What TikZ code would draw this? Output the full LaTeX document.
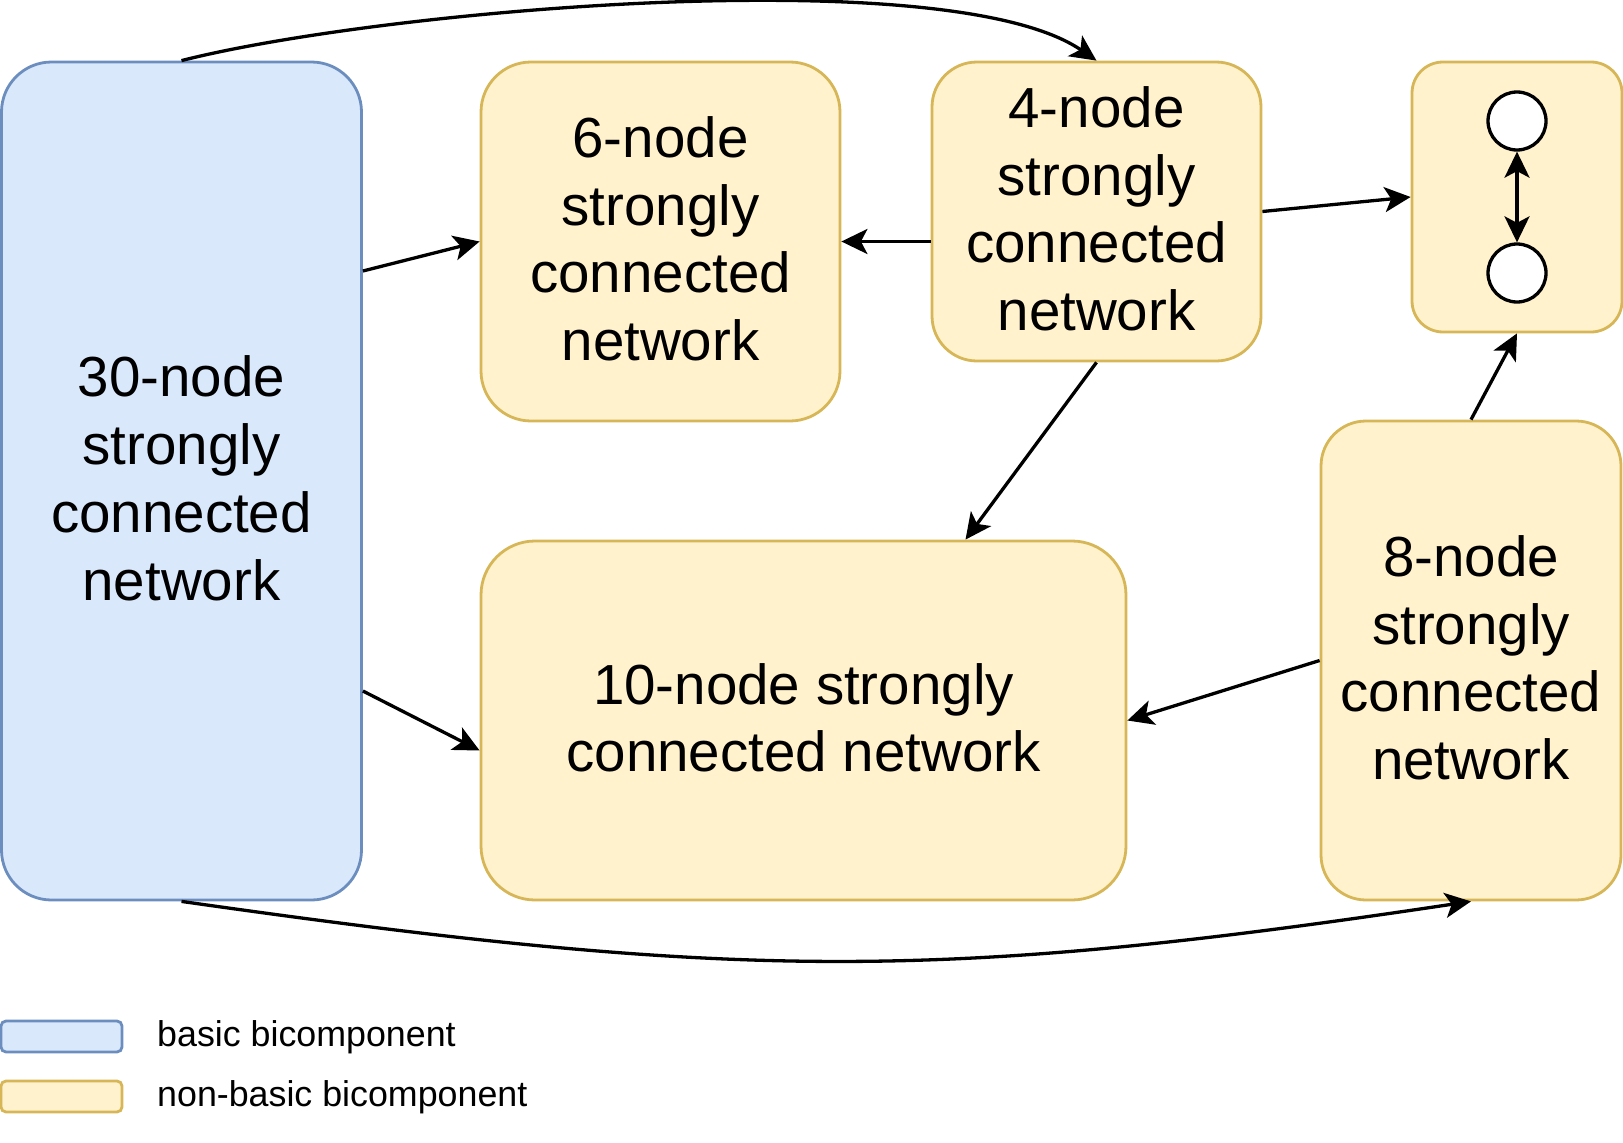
\documentclass[tikz,border=0pt]{standalone}
\usepackage{fontspec}
\setmainfont{Liberation Sans}
\usetikzlibrary{arrows.meta}
\definecolor{bluefill}{HTML}{DAE8FC}
\definecolor{bluedraw}{HTML}{6C8EBF}
\definecolor{yelfill}{HTML}{FFF2CC}
\definecolor{yeldraw}{HTML}{D6B656}
\tikzset{
  box/.style={rectangle, line width=2.8pt, align=center, inner sep=0pt, text depth=6pt,
    font=\fontsize{56.5pt}{67.8pt}\selectfont},
  basicbox/.style={box, fill=bluefill, draw=bluedraw},
  nonbasicbox/.style={box, fill=yelfill, draw=yeldraw},
  legbox/.style={rectangle, line width=2.8pt, inner sep=0pt, minimum width=121pt, minimum height=31pt, rounded corners=5pt},
  dot/.style={circle, draw=black, fill=white, line width=3.3pt, minimum size=58pt, inner sep=0pt},
  conn/.style={line width=3.3pt, -{Stealth[length=26pt,width=25pt,inset=6.5pt]}},
  dconn/.style={line width=3.3pt, {Stealth[length=26pt,width=25pt,inset=6.5pt]}-{Stealth[length=26pt,width=25pt,inset=6.5pt]}},
  legtext/.style={anchor=base west, inner sep=0pt, font=\fontsize{35.8pt}{43pt}\selectfont}
}
\begin{document}
\begin{tikzpicture}[x=1pt,y=-1pt]
\useasboundingbox (0,0) rectangle (1623,1143);
% boxes
\node[basicbox, minimum width=360pt, minimum height=838pt, rounded corners=50pt] (A) at (181.5,481) {30-node\\strongly\\connected\\network};
\node[nonbasicbox, minimum width=359pt, minimum height=359pt, rounded corners=50pt] (B) at (660.5,241.5) {6-node\\strongly\\connected\\network};
\node[nonbasicbox, minimum width=329pt, minimum height=299pt, rounded corners=45pt] (C) at (1096.5,211.5) {4-node\\strongly\\connected\\network};
\node[nonbasicbox, minimum width=210pt, minimum height=270pt, rounded corners=31pt] (D) at (1517,197) {};
\node[nonbasicbox, minimum width=300pt, minimum height=479pt, rounded corners=45pt] (E) at (1471,660.5) {8-node\\strongly\\connected\\network};
\node[nonbasicbox, minimum width=645pt, minimum height=359pt, rounded corners=54pt] (F) at (803.5,720.5) {10-node strongly\\connected network};
% two vertices inside the small box
\node[dot] (D1) at (1517,121) {};
\node[dot] (D2) at (1517,273) {};
\draw[dconn] (D1.south) -- (D2.north);
% connectors
\draw[conn] ([yshift=210pt]A.east) -- (B.west);
\draw[conn] ([yshift=-210pt]A.east) -- ([yshift=-30pt]F.west);
\draw[conn] (C.west |- B.east) -- (B.east);
\draw[conn] (C.east) -- (D.west);
\draw[conn] (C.south) -- ([xshift=162pt]F.north);
\draw[conn] (E.north) -- (D.south);
\draw[conn] (E.west) -- (F.east);
\draw[conn] (A.north) .. controls (380,10) and (950,-40) .. (C.north);
\draw[conn] (A.south) .. controls (740,981) and (940,981) .. (E.south);
% legend
\node[legbox, fill=bluefill, draw=bluedraw] (LB) at (61.5,1036.5) {};
\node[legbox, fill=yelfill, draw=yeldraw] (LY) at (61.5,1096.5) {};
\node[legtext] (LBT) at (157,1046.7) {basic bicomponent};
\node[legtext] (LYT) at (157,1106.7) {non-basic bicomponent};
\end{tikzpicture}
\end{document}
